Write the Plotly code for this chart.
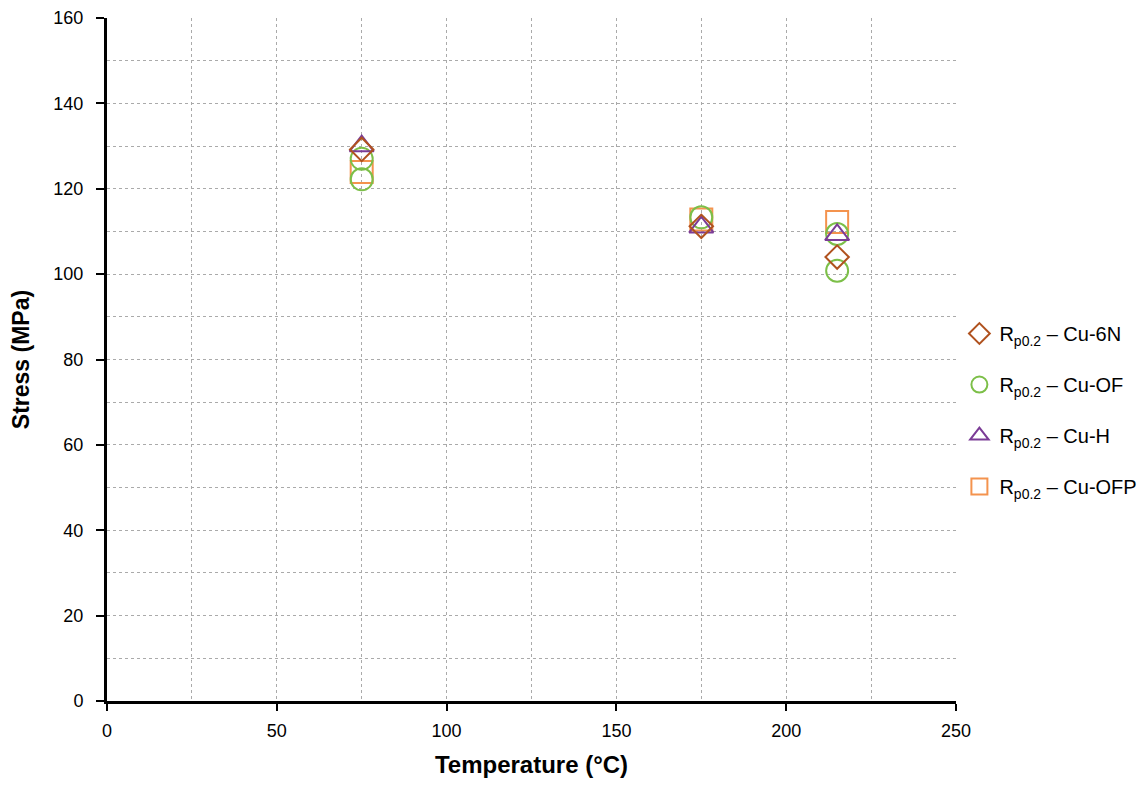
import plotly.graph_objects as go

temp_6n = [75, 175, 215]
stress_6n = [129.2, 111.2, 104.0]
temp_of = [75, 75, 175, 215, 215]
stress_of = [127.0, 122.2, 113.3, 109.4, 100.8]
temp_h = [75, 175, 215]
stress_h = [130.0, 111.0, 109.2]
temp_ofp = [75, 175, 215]
stress_ofp = [123.9, 112.8, 112.2]

names = ["R<sub>p0.2</sub> – Cu-6N", "R<sub>p0.2</sub> – Cu-OF",
         "R<sub>p0.2</sub> – Cu-H", "R<sub>p0.2</sub> – Cu-OFP"]
colors = ["#B0521F", "#7CBF48", "#7B3C96", "#F4934E"]

fig = go.Figure()
# drawing order: square at back, diamond on top; legend order via legendrank
order = [(temp_ofp, stress_ofp, "square-open", 22, 3),
         (temp_of, stress_of, "circle-open", 22, 1),
         (temp_h, stress_h, "triangle-up-open", 21, 2),
         (temp_6n, stress_6n, "diamond-open", 18, 0)]
for xs, ys, sym, size, idx in order:
    fig.add_trace(go.Scatter(
        x=xs, y=ys, mode="markers", name=names[idx],
        legendgroup=str(idx), legendrank=idx + 1,
        marker=dict(symbol=sym, size=size, color=colors[idx],
                    line=dict(width=2, color=colors[idx])),
    ))

grid = dict(showgrid=True, gridcolor="#AAAAAA", griddash="dot", gridwidth=1)
fig.update_layout(
    width=1146, height=785,
    margin=dict(l=107, r=190, t=18, b=84, autoexpand=False),
    plot_bgcolor="white", paper_bgcolor="white",
    font=dict(family="Liberation Sans, Arial, sans-serif", size=18, color="black"),
    legend=dict(x=1.004, y=0.426, yanchor="middle", xanchor="left",
                font=dict(size=20), tracegroupgap=22, traceorder="grouped"),
    xaxis=dict(range=[0, 250], dtick=50, tick0=0, showline=True, linecolor="black",
               linewidth=3, ticks="outside", ticklen=7, tickwidth=2, tickcolor="black",
               zeroline=False, ticklabelstandoff=4,
               minor=dict(dtick=25, showgrid=True, gridcolor="#AAAAAA", griddash="dot"),
               title=dict(text="<b>Temperature (°C)</b>", font=dict(size=24), standoff=17),
               **grid),
    yaxis=dict(range=[0, 160], dtick=20, tick0=0, showline=True, linecolor="black",
               linewidth=3, ticks="outside", ticklen=8, tickwidth=2, tickcolor="black",
               zeroline=False, ticklabelstandoff=9,
               minor=dict(dtick=10, showgrid=True, gridcolor="#AAAAAA", griddash="dot"),
               title=dict(text="<b>Stress (MPa)</b>", font=dict(size=23), standoff=18),
               **grid),
)
fig.write_html("out.html")
